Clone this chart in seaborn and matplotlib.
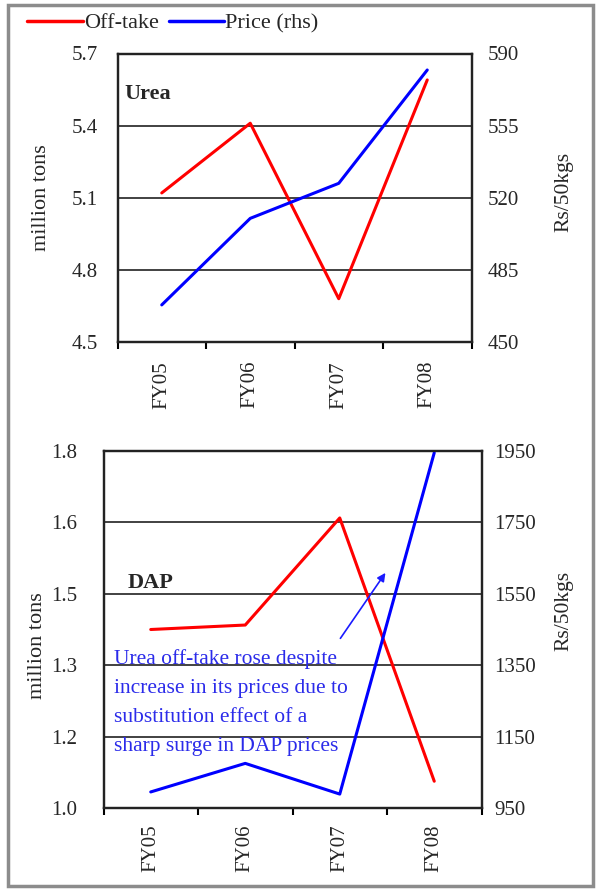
import numpy as np
import seaborn as sns
import matplotlib.pyplot as plt
from matplotlib.ticker import FormatStrFormatter
from matplotlib.lines import Line2D
from matplotlib.patches import Rectangle

# data
years = ["FY05", "FY06", "FY07", "FY08"]
urea_offtake = [5.12, 5.41, 4.68, 5.59]      # million tons
urea_price = [468, 510, 527, 582]            # Rs/50kgs
dap_offtake = [1.40, 1.41, 1.65, 1.06]       # million tons
dap_price = [995, 1075, 989, 1945]           # Rs/50kgs

note = ("Urea off-take rose despite\nincrease in its prices due to\n"
        "substitution effect of a\nsharp surge in DAP prices")

sns.set_theme(style="white")
plt.rcParams["font.family"] = ["Liberation Serif", "DejaVu Serif"]

W, H = 596, 893
PT = 72 / 100  # pixels -> points
fig = plt.figure(figsize=(W / 100, H / 100), dpi=100)


def px_rect(left, top, right, bottom):
    return [left / W, 1 - bottom / H, (right - left) / W, (bottom - top) / H]


def draw_panel(rect, offtake, price, lticks, rticks, lpad, rpad, xpad):
    ax = fig.add_axes(rect)
    pos = np.arange(len(years))
    sns.lineplot(x=pos, y=offtake, ax=ax, color="#ff0000", lw=2.2)
    ax.set_ylim(lticks[0], lticks[-1])
    ax.set_yticks(lticks)
    ax.yaxis.set_major_formatter(FormatStrFormatter("%.1f"))
    ax.yaxis.grid(True, color="#333333", lw=1.3)
    ax.set_xlim(-0.5, len(years) - 0.5)
    ax.set_xticks(np.arange(-0.5, len(years), 1))
    ax.set_xticklabels([])
    ax.set_xticks(pos, minor=True)
    ax.set_xticklabels(years, minor=True, rotation=90)
    ax.tick_params(axis="x", which="major", bottom=True, length=5, width=1.5,
                   direction="out", color="black")
    ax.tick_params(axis="x", which="minor", bottom=True, length=0,
                   pad=xpad * PT, labelsize=15)
    ax.tick_params(axis="y", left=False, length=0, pad=lpad * PT, labelsize=15)
    for s in ax.spines.values():
        s.set_color("#222222")
        s.set_linewidth(1.6)

    ax2 = ax.twinx()
    sns.lineplot(x=pos, y=price, ax=ax2, color="#0000ff", lw=2.2)
    ax2.set_ylim(rticks[0], rticks[-1])
    ax2.set_yticks(rticks)
    ax2.grid(False)
    ax2.tick_params(axis="y", right=False, length=0, pad=rpad * PT, labelsize=15)
    for s in ax2.spines.values():
        s.set_color("#222222")
        s.set_linewidth(1.6)
    ax.set_ylabel("")
    ax2.set_ylabel("")
    return ax, ax2


# top panel: Urea
ax_u, ax_u2 = draw_panel(px_rect(117.5, 53.5, 471.5, 342), urea_offtake, urea_price,
                         np.arange(4.5, 5.71, 0.3), np.arange(450, 591, 35),
                         20, 16, 19)
ax_u.text(0.02, 0.86, "Urea", transform=ax_u.transAxes, fontsize=16,
          fontweight="bold", va="center", ha="left")

# bottom panel: DAP
ax_d, ax_d2 = draw_panel(px_rect(103.5, 451, 481.5, 808), dap_offtake, dap_price,
                         np.linspace(1.0, 1.8, 6), np.arange(950, 1951, 200),
                         26, 13, 16)
ax_d.text(0.063, 0.63, "DAP", transform=ax_d.transAxes, fontsize=16,
          fontweight="bold", va="center", ha="left")
ax_d.annotate("", xy=(2.5, 1.532), xytext=(1.99, 1.375),
              arrowprops=dict(arrowstyle="-|>", color="#1a1aff", lw=1.2,
                              mutation_scale=12))
ax_d.text(-0.39, 1.355, note, color="#2b2bea", fontsize=15.5, va="top",
          ha="left", linespacing=1.7)

# axis titles
fig.text(42 / W, 1 - 198 / H, "million tons", rotation=90, ha="center",
         va="center", fontsize=16)
fig.text(37 / W, 1 - 646 / H, "million tons", rotation=90, ha="center",
         va="center", fontsize=16)
fig.text(564 / W, 1 - 192 / H, "Rs/50kgs", rotation=90, ha="center",
         va="center", fontsize=15.5)
fig.text(564 / W, 1 - 611 / H, "Rs/50kgs", rotation=90, ha="center",
         va="center", fontsize=15.5)

# legend
handles = [Line2D([], [], color="#ff0000", lw=2.5),
           Line2D([], [], color="#0000ff", lw=2.5)]
fig.legend(handles, ["Off-take", "Price (rhs)"], loc="center left",
           bbox_to_anchor=(27 / W, 1 - 23 / H), ncol=2, frameon=False,
           fontsize=16, handlelength=2.5, handletextpad=0.05,
           columnspacing=0.45, borderaxespad=0, borderpad=0)

# outer frame
fig.patches.append(Rectangle((8 / W, 1 - 886 / H), 585 / W, 881 / H,
                             transform=fig.transFigure, fill=False,
                             ec="#8c8c8c", lw=2.5))

fig.savefig("out.png", dpi=100)
